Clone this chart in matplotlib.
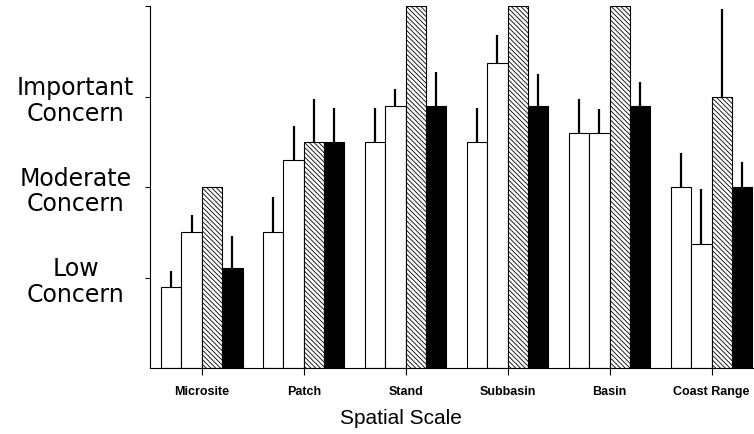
import numpy as np
import matplotlib
matplotlib.use('Agg')
import matplotlib.pyplot as plt

plt.rcParams['hatch.linewidth'] = 0.6

# Concern ratings per spatial scale (four respondent groups)
scales = ['Microsite', 'Patch', 'Stand', 'Subbasin', 'Basin', 'Coast Range']
concern_labels = ['Low\nConcern', 'Moderate\nConcern', 'Important\nConcern', '']

group_a = [0.9, 1.5, 2.5, 2.5, 2.6, 2.0]
group_b = [1.5, 2.3, 2.9, 3.37, 2.6, 1.37]
group_c = [2.0, 2.5, 4.0, 4.0, 4.0, 3.0]
group_d = [1.1, 2.5, 2.9, 2.9, 2.9, 2.0]

# upper error bar lengths (0 = not shown)
err_a = [0.17, 0.39, 0.37, 0.37, 0.37, 0.38]
err_b = [0.19, 0.37, 0.18, 0.31, 0.26, 0.61]
err_c = [0.0, 0.47, 0.0, 0.0, 0.0, 0.97]
err_d = [0.36, 0.37, 0.37, 0.35, 0.26, 0.28]

fig = plt.figure(figsize=(7.54, 4.35), dpi=100)
ax = fig.add_axes([150 / 754, 66 / 435, 604 / 754, 362 / 435])

x = np.arange(len(scales))
w = 0.2
series = [
    (group_a, err_a, dict(color='white', edgecolor='black')),
    (group_b, err_b, dict(color='white', edgecolor='black')),
    (group_c, err_c, dict(color='white', edgecolor='black', hatch='\\' * 7)),
    (group_d, err_d, dict(color='black', edgecolor='black')),
]
for i, (vals, errs, style) in enumerate(series):
    pos = x + (i - 1.5) * w
    ax.bar(pos, vals, width=w, linewidth=0.8, zorder=2, **style)
    vals = np.array(vals)
    errs = np.array(errs)
    show = errs > 0
    ax.vlines(pos[show], vals[show], vals[show] + errs[show],
              color='black', linewidth=1.6, zorder=3)

ax.set_xlim(-0.507, 5.415)
ax.set_ylim(0, 4)

ax.spines['top'].set_visible(False)
ax.spines['right'].set_visible(False)
ax.spines['left'].set_linewidth(0.8)
ax.spines['bottom'].set_linewidth(0.8)

ax.set_yticks([1, 2, 3, 4])
ax.set_yticklabels(concern_labels, fontsize=17, family='DejaVu Sans')
plt.setp(ax.get_yticklabels(), ha='center', multialignment='center', linespacing=1.1)
ax.tick_params(axis='y', direction='out', length=3.6, width=0.8, pad=50)

ax.set_xticks(x)
ax.set_xticklabels(scales, fontsize=9, fontweight='bold', family='Liberation Sans')
ax.tick_params(axis='x', direction='out', length=5, width=0.8, pad=7)

ax.set_xlabel('Spatial Scale', fontsize=15, family='Liberation Sans')
ax.xaxis.set_label_coords(0.415, -0.11)

fig.savefig('out.png', dpi=100)
